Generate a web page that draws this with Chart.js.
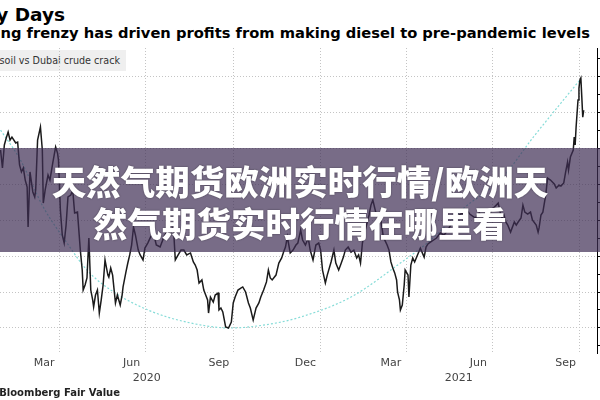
<!DOCTYPE html>
<html>
<head>
<meta charset="utf-8">
<script src="https://cdn.jsdelivr.net/npm/chart.js@4/dist/chart.umd.min.js"></script>
<style>
  html, body { margin: 0; padding: 0; background: #fff; }
  #wrap { position: relative; width: 600px; height: 400px; overflow: hidden; background: #fff; font-family: 'DejaVu Sans', sans-serif; }
  #chartBox { position: absolute; left: -27px; top: 0; width: 632px; height: 400px; }
  .title { position: absolute; right: 535px; top: 6px; font-size: 18.5px; line-height: 18.5px; font-weight: bold; color: #000; white-space: nowrap; }
  .subtitle { position: absolute; right: 10px; top: 26px; font-size: 14.7px; line-height: 14.7px; font-weight: bold; color: #000; white-space: nowrap; }
  .legend { position: absolute; right: 474px; top: 50px; height: 21px; line-height: 21px; padding: 0 6px 0 60px; background: #efefef; font-size: 9.6px; color: #333; white-space: nowrap; }
  .source { position: absolute; right: 480px; top: 388px; font-size: 10px; line-height: 10px; font-weight: bold; color: #222; white-space: nowrap; }
  .band { position: absolute; left: 0; top: 148px; width: 600px; height: 104px; background: rgba(62,45,84,0.7); z-index: 5; }
  .band p { margin: 0; padding-top: 11px; text-align: center; color: #fff; font-family: 'Noto Sans CJK SC', sans-serif; font-weight: 900; font-size: 34.5px; line-height: 42px; text-shadow: 0 0 2px rgba(0,0,0,0.45); }
</style>
</head>
<body>
<div id="wrap">
  <div class="title">Happy Days</div>
  <div class="subtitle">Buying frenzy has driven profits from making diesel to pre-pandemic levels</div>
  <div class="legend">Gasoil vs Dubai crude crack</div>
  <div id="chartBox"><canvas id="chart" width="632" height="400"></canvas></div>
  <div class="source">Source: Bloomberg Fair Value</div>
  <div class="band"><p>天然气期货欧洲实时行情/欧洲天<br>然气期货实时行情在哪里看</p></div>
</div>
<script>
Chart.defaults.font.family = "'DejaVu Sans', sans-serif";
Chart.defaults.font.size   = 11;
Chart.defaults.color       = '#444';

// Gasoil vs Dubai crack, $/bbl
const dates = [
  '2020-01-30','2020-02-01','2020-02-03','2020-02-05','2020-02-07','2020-02-09','2020-02-11','2020-02-15','2020-02-17','2020-02-19','2020-02-21','2020-02-23','2020-02-25','2020-02-27','2020-02-28',
  '2020-03-01','2020-03-04','2020-03-06','2020-03-07','2020-03-09','2020-03-12','2020-03-14','2020-03-15','2020-03-17','2020-03-20','2020-03-22','2020-03-25','2020-03-28','2020-03-30','2020-03-31',
  '2020-04-02','2020-04-04','2020-04-06','2020-04-08','2020-04-10','2020-04-13','2020-04-15','2020-04-17','2020-04-20','2020-04-23','2020-04-25','2020-04-26','2020-04-28','2020-04-30',
  '2020-05-02','2020-05-04','2020-05-06','2020-05-07','2020-05-09','2020-05-11','2020-05-13','2020-05-15','2020-05-17','2020-05-19','2020-05-22','2020-05-23','2020-05-25','2020-05-27','2020-05-30',
  '2020-06-01','2020-06-04','2020-06-06','2020-06-07','2020-06-10','2020-06-12','2020-06-14','2020-06-16','2020-06-18','2020-06-20','2020-06-23','2020-06-25','2020-06-28','2020-06-30',
  '2020-07-03','2020-07-06','2020-07-09','2020-07-12','2020-07-16','2020-07-20','2020-07-23','2020-07-27','2020-07-30',
  '2020-08-01','2020-08-04','2020-08-07','2020-08-10','2020-08-13','2020-08-17','2020-08-20','2020-08-22','2020-08-24','2020-08-26','2020-08-29','2020-08-31',
  '2020-09-02','2020-09-04','2020-09-05','2020-09-07','2020-09-10','2020-09-12','2020-09-15','2020-09-16','2020-09-18','2020-09-20','2020-09-23','2020-09-26','2020-09-29',
  '2020-10-01','2020-10-03','2020-10-06','2020-10-09','2020-10-11','2020-10-14','2020-10-17','2020-10-19','2020-10-22','2020-10-25','2020-10-28','2020-10-30',
  '2020-11-02','2020-11-05','2020-11-07','2020-11-09','2020-11-11','2020-11-15','2020-11-18','2020-11-21','2020-11-23','2020-11-25','2020-11-27','2020-11-30',
  '2020-12-03','2020-12-06','2020-12-08','2020-12-11','2020-12-13','2020-12-16','2020-12-19','2020-12-21','2020-12-24','2020-12-27','2020-12-30',
  '2021-01-01','2021-01-03','2021-01-06','2021-01-08','2021-01-12','2021-01-15','2021-01-17','2021-01-20','2021-01-22','2021-01-25','2021-01-27','2021-01-30',
  '2021-02-02','2021-02-05','2021-02-08','2021-02-10','2021-02-12','2021-02-14','2021-02-17','2021-02-21','2021-02-23','2021-02-25','2021-02-28',
  '2021-03-03','2021-03-05','2021-03-08','2021-03-12','2021-03-14','2021-03-16','2021-03-18','2021-03-20','2021-03-22','2021-03-23','2021-03-25','2021-03-26','2021-03-28','2021-03-30','2021-03-31',
  '2021-04-03','2021-04-04','2021-04-06','2021-04-08','2021-04-10','2021-04-13','2021-04-16','2021-04-20','2021-04-22','2021-04-24','2021-04-27','2021-04-30',
  '2021-05-03','2021-05-07','2021-05-11','2021-05-15','2021-05-18','2021-05-21','2021-05-24','2021-05-28',
  '2021-06-01','2021-06-04','2021-06-07','2021-06-10','2021-06-13','2021-06-17','2021-06-20','2021-06-23','2021-06-26','2021-06-29',
  '2021-07-02','2021-07-07','2021-07-09','2021-07-11','2021-07-13','2021-07-15','2021-07-17','2021-07-20','2021-07-24','2021-07-26','2021-07-28','2021-07-31',
  '2021-08-02','2021-08-04','2021-08-07','2021-08-10','2021-08-12','2021-08-16','2021-08-18','2021-08-19','2021-08-21','2021-08-23','2021-08-26','2021-08-28','2021-08-31',
  '2021-09-04','2021-09-06','2021-09-09','2021-09-11','2021-09-14','2021-09-16','2021-09-18','2021-09-19','2021-09-21','2021-09-24','2021-09-25','2021-09-26','2021-09-27','2021-09-29','2021-09-30',
  '2021-10-01','2021-10-02','2021-10-03','2021-10-04','2021-10-05'
];
const crack = [
  13.89,12.89,14.17,14.56,14.89,14.44,14.61,14.28,14.33,13.06,12.67,12.89,12.22,11.83,9.61,
  12.67,11.56,11.28,11.67,14.44,15.17,13.89,10.94,11.67,12.5,12.22,13.17,14.06,13.72,13.33,
  10.56,9.17,8.72,9.72,11.28,11.39,11.67,10.39,10.44,8.33,7.22,6.11,6.39,6.78,
  9.0,6.11,5.56,5.17,5.83,6.11,4.83,5.56,6.39,7.78,6.94,6.83,7.33,6.94,5.39,
  5.83,5.28,5.83,6.28,7.11,7.61,8.06,8.61,9.61,9.17,8.33,8.06,7.78,8.44,
  8.72,9.06,9.28,8.61,8.5,9.06,9.33,9.17,9.61,
  7.78,8.06,8.33,8.33,8.06,8.17,7.67,7.5,7.22,6.5,6.67,6.11,
  5.83,5.56,4.83,5.72,5.44,5.83,5.94,5.0,5.11,4.89,4.06,4.0,4.33,
  5.39,5.72,6.11,6.22,6.28,6.0,5.39,5.11,4.44,5.11,5.39,5.72,
  6.11,6.56,7.22,6.78,6.67,6.94,7.61,7.89,8.22,8.5,9.06,8.17,
  8.33,8.61,8.72,9.44,8.89,8.61,9.0,8.33,7.78,8.61,8.72,
  8.33,7.22,6.5,6.94,7.67,8.33,7.61,7.22,7.5,7.94,8.33,8.5,
  8.22,8.33,7.89,8.06,7.61,8.72,9.44,10.28,10.83,11.11,10.44,
  10.28,10.17,9.06,8.61,8.33,7.67,7.33,7.06,6.67,6.0,5.56,5.0,5.28,6.39,7.22,
  6.94,5.72,7.5,7.89,7.67,8.06,8.44,7.94,8.5,8.67,8.78,8.89,
  9.0,9.28,9.17,9.44,9.72,9.89,10.0,10.33,
  10.39,10.56,10.33,10.22,10.11,10.39,10.22,10.33,10.17,10.44,
  10.67,10.94,10.44,10.11,10.28,9.89,9.72,9.33,9.89,9.72,9.89,10.11,
  10.83,10.44,10.33,10.44,10.0,9.72,9.33,9.56,10.28,10.44,11.39,12.33,12.22,
  12.0,11.78,11.94,11.89,12.06,12.67,13.22,12.78,13.5,13.89,14.61,14.17,15.17,16.67,17.33,
  17.78,17.89,16.83,15.72,16.11
];

// light cyan curve
const curveDates  = ['2020-01-30','2020-02-20','2020-03-15','2020-04-09','2020-04-30','2020-05-25','2020-07-06','2020-08-17','2020-09-28','2020-11-09','2020-12-11','2021-02-02','2021-03-26','2021-04-27','2021-06-01','2021-07-10','2021-08-13','2021-09-11','2021-10-01'];
const curveValues = [15.0, 13.33, 10.72, 8.72, 7.22, 6.11, 4.94, 4.28, 4.0, 4.22, 4.61, 5.72, 7.61, 8.89, 10.67, 12.28, 14.61, 16.5, 17.78];

// axis: gridlines at quarter starts, month names mid-month
const gridDates  = ['2020-04-01','2020-07-01','2020-10-01','2021-01-01','2021-04-01','2021-07-01','2021-10-01'];
const labelDates = ['2020-03-16','2020-06-16','2020-09-16','2020-12-16','2021-03-16','2021-06-16','2021-09-16'];
const labelNames = ['Mar','Jun','Sep','Dec','Mar','Jun','Sep'];
const years      = [2020, 2021];
const yTicks     = [3,4,5,6,7,8,9,10,11,12,13,14,15,16,17,18,19];

const toDay = s => Date.UTC(+s.slice(0, 4), +s.slice(5, 7) - 1, +s.slice(8, 10)) / 864e5;

const yearLabels = {
  id: 'yearLabels',
  afterDraw(chart) {
    const s = chart.scales.x, ctx = chart.ctx;
    ctx.save();
    ctx.font = "11px 'DejaVu Sans', sans-serif";
    ctx.fillStyle = '#444';
    ctx.textAlign = 'center';
    ctx.textBaseline = 'middle';
    years.forEach(y => {
      const a = Math.max(s.min, toDay(y + '-01-01'));
      const b = Math.min(s.max, toDay((y + 1) + '-01-01'));
      ctx.fillText(String(y), (s.getPixelForValue(a) + s.getPixelForValue(b)) / 2, 378);
    });
    ctx.restore();
  }
};

new Chart(document.getElementById('chart'), {
  type: 'line',
  data: {
    datasets: [{
      data: dates.map((d, i) => ({ x: toDay(d), y: crack[i] })),
      borderColor: '#1a1a1a',
      borderWidth: 1.5,
      pointRadius: 0,
      tension: 0,
    }, {
      data: curveDates.map((d, i) => ({ x: toDay(d), y: curveValues[i] })),
      borderColor: '#86dcd8',
      borderWidth: 1.2,
      borderDash: [2, 2],
      pointRadius: 0,
      cubicInterpolationMode: 'monotone',
    }]
  },
  options: {
    responsive: false,
    animation: false,
    devicePixelRatio: 1,
    layout: { padding: { top: 48, left: 0, right: 0, bottom: 0 } },
    plugins: { legend: { display: false }, tooltip: { enabled: false } },
    scales: {
      x: {
        type: 'linear',
        min: toDay('2020-01-01'),
        max: toDay('2021-10-19'),
        afterBuildTicks: s => {
          s.ticks = gridDates.map(d => ({ value: toDay(d), grid: true }))
            .concat(labelDates.map((d, i) => ({ value: toDay(d), name: labelNames[i] })))
            .sort((a, b) => a.value - b.value);
        },
        afterFit: s => { s.height = 47; },
        grid: {
          color: ctx => (ctx.tick && ctx.tick.grid) ? '#c4c4c4' : 'rgba(0,0,0,0)',
          drawTicks: false,
        },
        border: { display: false, dash: [1, 2] },
        ticks: {
          autoSkip: false,
          maxRotation: 0,
          padding: 4,
          color: '#444',
          callback: (v, i, t) => t[i].name || '',
        }
      },
      y: {
        position: 'right',
        min: 2.61,
        max: 19.56,
        afterBuildTicks: s => { s.ticks = yTicks.map(v => ({ value: v })); },
        afterFit: s => { s.width = 8; },
        grid: {
          color: ctx => (ctx.tick && ctx.tick.value % 2 === 0) ? '#c4c4c4' : 'rgba(0,0,0,0)',
          tickColor: '#000',
          tickLength: 4,
        },
        border: { display: true, color: '#000', width: 1, dash: [1, 2] },
        ticks: { display: false }
      }
    }
  },
  plugins: [yearLabels]
});
</script>
</body>
</html>
